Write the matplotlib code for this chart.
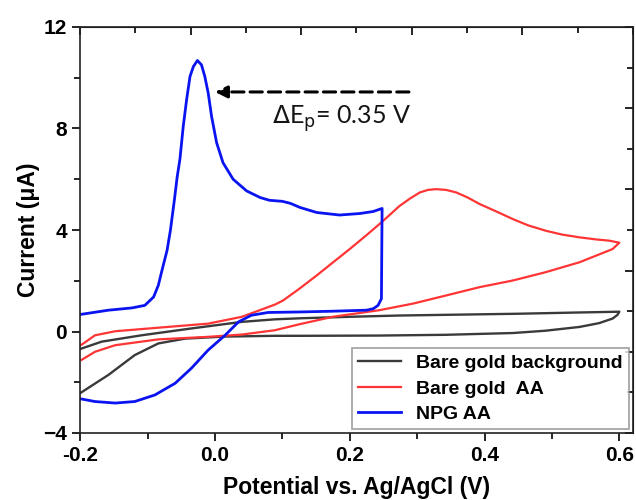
import matplotlib
matplotlib.use("Agg")
import matplotlib.pyplot as plt
import numpy as np
from matplotlib.ticker import MultipleLocator, FixedLocator

# NPG AA (blue): anodic sweep then return sweep
npg_x = [-0.200, -0.158, -0.123, -0.104, -0.091, -0.084, -0.078, -0.071, -0.066, -0.060,
         -0.056, -0.052, -0.047, -0.042, -0.037, -0.032, -0.026, -0.020, -0.015, -0.010,
         -0.005, 0.0025, 0.012, 0.027, 0.047, 0.067, 0.081, 0.100, 0.112, 0.126,
         0.151, 0.185, 0.215, 0.235, 0.248,
         0.247, 0.242, 0.235, 0.225, 0.175, 0.126, 0.079, 0.054, 0.035, 0.015,
         -0.010, -0.035, -0.059, -0.089, -0.119, -0.148, -0.178, -0.200]
npg_y = [0.67, 0.84, 0.93, 1.03, 1.36, 1.82, 2.47, 3.20, 4.00, 5.22,
         6.10, 6.78, 8.09, 9.14, 10.05, 10.44, 10.68, 10.51, 10.05, 9.40,
         8.48, 7.44, 6.65, 6.00, 5.54, 5.28, 5.17, 5.13, 5.05, 4.89,
         4.69, 4.59, 4.65, 4.73, 4.85,
         1.29, 1.03, 0.90, 0.84, 0.80, 0.77, 0.75, 0.64, 0.38, -0.15,
         -0.73, -1.45, -2.04, -2.50, -2.76, -2.82, -2.76, -2.65]

# Bare gold AA (red)
au_aa_x = [-0.200, -0.195, -0.178, -0.148, -0.084, -0.010, 0.040, 0.089, 0.101, 0.126,
           0.151, 0.175, 0.200, 0.225, 0.247, 0.274, 0.290, 0.304, 0.316, 0.328,
           0.343, 0.358, 0.375, 0.393, 0.420, 0.442, 0.465, 0.491, 0.515, 0.541,
           0.565, 0.585, 0.600,
           0.590, 0.541, 0.491, 0.442, 0.393, 0.343, 0.294, 0.244, 0.175, 0.126,
           0.089, 0.040, -0.010, -0.084, -0.148, -0.178, -0.198]
au_aa_y = [-0.55, -0.47, -0.15, 0.01, 0.15, 0.31, 0.58, 1.06, 1.22, 1.70,
           2.21, 2.72, 3.25, 3.80, 4.30, 4.95, 5.25, 5.48, 5.58, 5.61,
           5.58, 5.48, 5.28, 5.02, 4.70, 4.43, 4.18, 3.97, 3.82, 3.71,
           3.63, 3.58, 3.50,
           3.25, 2.73, 2.34, 2.01, 1.75, 1.42, 1.10, 0.84, 0.58, 0.29,
           0.05, -0.12, -0.21, -0.31, -0.54, -0.80, -1.12]

# Bare gold background (dark gray)
au_bg_x = [-0.200, -0.168, -0.109, -0.035, 0.040, 0.089, 0.126, 0.200, 0.274, 0.350,
           0.450, 0.541, 0.600,
           0.597, 0.590, 0.570, 0.541, 0.490, 0.442, 0.343, 0.244, 0.126, 0.089,
           0.015, -0.044, -0.084, -0.119, -0.158, -0.200]
au_bg_y = [-0.69, -0.40, -0.15, 0.12, 0.38, 0.48, 0.52, 0.58, 0.63, 0.66,
           0.70, 0.75, 0.78,
           0.65, 0.51, 0.33, 0.18, 0.03, -0.06, -0.13, -0.16, -0.17, -0.17,
           -0.20, -0.28, -0.47, -0.93, -1.71, -2.43]

labels = ["Bare gold background", "Bare gold  AA", "NPG AA"]

plt.rcParams['font.family'] = ['Liberation Sans', 'DejaVu Sans']

fig = plt.figure(figsize=(6.36, 5.0), dpi=100)
ax = fig.add_axes([0.126, 0.134, 0.869, 0.812])

ax.plot(au_bg_x, au_bg_y, color='#3a3a3a', lw=1.7, label=labels[0])
ax.plot(au_aa_x, au_aa_y, color='#ff3535', lw=1.6, label=labels[1])
ax.plot(npg_x, npg_y, color='#0a14f0', lw=2.0, label=labels[2])

xmin, xmax = -0.2, 0.62
ax.set_xlim(xmin, xmax)
ax.set_ylim(-4, 12)
ax.xaxis.set_major_locator(FixedLocator([-0.2, 0.0, 0.2, 0.4, 0.6]))
ax.xaxis.set_minor_locator(FixedLocator([-0.1, 0.1, 0.3, 0.5]))
ax.yaxis.set_major_locator(MultipleLocator(4))
ax.yaxis.set_minor_locator(MultipleLocator(2))
ax.set_xticklabels(['-0.2', '0.0', '0.2', '0.4', '0.6'])
ax.tick_params(which='both', direction='out', width=1.2, labelsize=15)
ax.tick_params(which='major', length=6)
ax.tick_params(which='minor', length=4)
for lab in ax.get_xticklabels() + ax.get_yticklabels():
    lab.set_fontweight('bold')
for s in ax.spines.values():
    s.set_linewidth(1.2)
    s.set_color('#222222')

# mirrored ticks on top / right (inward, evenly split)
top = ax.secondary_xaxis('top')
tt = np.linspace(xmin, xmax, 11)
top.xaxis.set_major_locator(FixedLocator(tt[::2]))
top.xaxis.set_minor_locator(FixedLocator(tt[1::2]))
top.tick_params(which='both', direction='in', labeltop=False, width=1.2)
top.tick_params(which='major', length=6)
top.tick_params(which='minor', length=4)
right = ax.secondary_yaxis('right')
rt = np.linspace(-4, 12, 11)
right.yaxis.set_major_locator(FixedLocator(rt[::2]))
right.yaxis.set_minor_locator(FixedLocator(rt[1::2]))
right.tick_params(which='both', direction='in', labelright=False, width=1.2)
right.tick_params(which='major', length=6)
right.tick_params(which='minor', length=4)

ax.set_xlabel('Potential vs. Ag/AgCl (V)', fontsize=16.5, fontweight='bold', labelpad=8)
ax.set_ylabel('Current (\u03bcA)', fontsize=16.5, fontweight='bold', labelpad=2)

ax.annotate('', xy=(-0.004, 9.44), xytext=(0.292, 9.44),
            arrowprops=dict(arrowstyle='-|>', linestyle=(0, (4, 2)), lw=2.2,
                            color='black', mutation_scale=18))
ax.text(0.084, 8.4, r'$\Delta$E$_\mathrm{p}$= 0.35 V', fontsize=18, family='Lato',
        color='#151515', va='center', ha='left')

leg = ax.legend(loc='lower right', prop={'weight': 'bold', 'size': 14},
                frameon=True, fancybox=False, edgecolor='#888888', handlelength=2.2,
                borderaxespad=0.2, labelspacing=0.42, borderpad=0.3)
leg.get_frame().set_linewidth(1.2)

fig.savefig('out.png', dpi=100)
